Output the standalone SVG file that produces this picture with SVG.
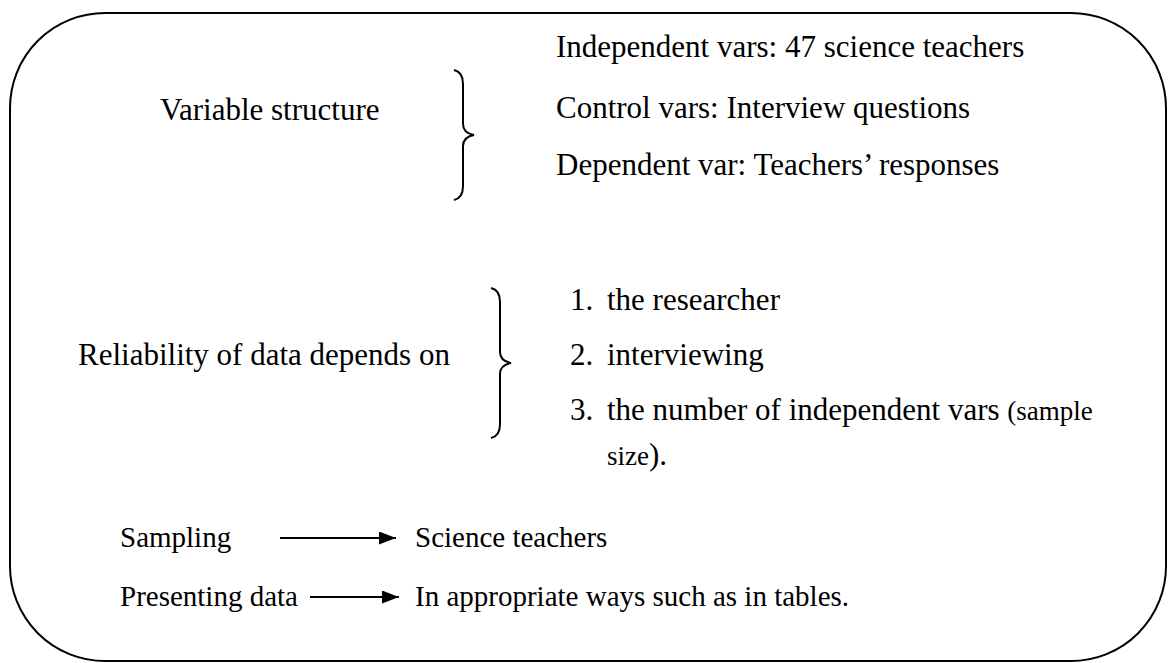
<svg xmlns="http://www.w3.org/2000/svg" width="1175" height="663" viewBox="0 0 1175 663">
<defs>
<style>
text{font-family:"Liberation Serif","Times New Roman",serif;font-size:31px;fill:#000}
.sm{font-size:27px}
.bt{font-size:29px}
.ln{fill:none;stroke:#000;stroke-width:2}
</style>
<marker id="ah" markerWidth="17" markerHeight="13" refX="17" refY="6.5" orient="auto" markerUnits="userSpaceOnUse" viewBox="0 0 17 13">
<path d="M0,0 L17,6.5 L0,13 Z" fill="#000"/>
</marker>
</defs>
<rect width="1175" height="663" fill="#fff"/>
<g id="frame">
<rect class="ln" x="10" y="13" width="1156" height="648" rx="95" ry="95"/>
</g>
<g id="variable-structure">
<text x="160" y="120">Variable structure</text>
<path class="ln" d="M454,70 Q463,72 463,84 L463,124 Q463,133 474,135 Q463,137 463,146 L463,186 Q463,198 454,200"/>
<text x="556" y="57">Independent vars: 47 science teachers</text>
<text x="556" y="118">Control vars: Interview questions</text>
<text x="556" y="175">Dependent var: Teachers’ responses</text>
</g>
<g id="reliability">
<text x="78" y="365">Reliability of data depends on</text>
<path class="ln" d="M491,288 Q500,290 500,302 L500,352 Q500,361 511,363 Q500,365 500,374 L500,424 Q500,436 491,438"/>
<text x="570" y="310">1.</text><text x="607" y="310">the researcher</text>
<text x="570" y="365">2.</text><text x="607" y="365">interviewing</text>
<text x="570" y="420">3.</text><text x="607" y="420">the number of independent vars <tspan class="sm">(sample</tspan></text>
<text x="607" y="465"><tspan class="sm">size</tspan>).</text>
</g>
<g id="sampling">
<text class="bt" x="120" y="547">Sampling</text>
<text class="bt" x="415" y="547">Science teachers</text>
</g>
<g id="presenting">
<text class="bt" x="120" y="606">Presenting data</text>
<text class="bt" x="415" y="606">In appropriate ways such as in tables.</text>
</g>
<g id="connectors">
<path d="M280,538 L396,538" stroke="#000" stroke-width="2" marker-end="url(#ah)"/>
<path d="M310,597 L399,597" stroke="#000" stroke-width="2" marker-end="url(#ah)"/>
</g>
</svg>
